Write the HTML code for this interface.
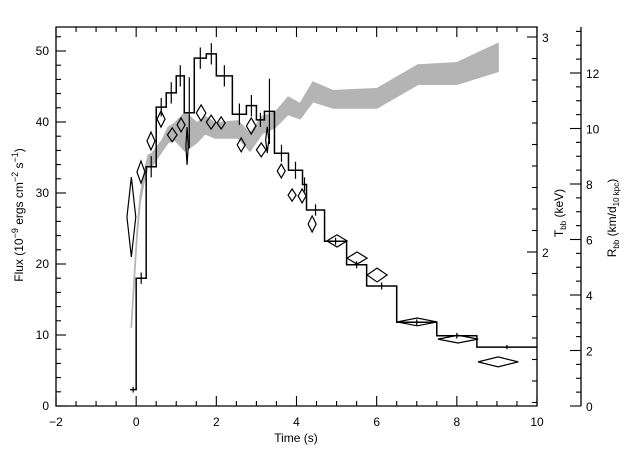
<!DOCTYPE html>
<html><head><meta charset="utf-8">
<style>
html,body{margin:0;padding:0;background:#fff;}
svg{display:block;font-family:"Liberation Sans",sans-serif;}
text{fill:#000;font-size:12px;}
</style></head>
<body>
<svg id="chart" width="640" height="457" viewBox="0 0 640 457" xmlns="http://www.w3.org/2000/svg">
<g id="band"></g>
<g id="diamonds"></g>
<g id="hist"></g>
<g id="axes"></g>
<text x="296" y="442" text-anchor="middle">Time (s)</text>
<text transform="translate(23,215) rotate(-90)" text-anchor="middle">Flux (10<tspan dy="-5" font-size="9">−9</tspan><tspan dy="5"> ergs cm</tspan><tspan dy="-5" font-size="9">−2</tspan><tspan dy="5"> s</tspan><tspan dy="-5" font-size="9">−1</tspan><tspan dy="5">)</tspan></text>
<text transform="translate(563,213) rotate(-90)" text-anchor="middle">T<tspan dy="3" font-size="8">bb</tspan><tspan dy="-3"> (keV)</tspan></text>
<text transform="translate(616,218) rotate(-90)" text-anchor="middle">R<tspan dy="3" font-size="8">bb</tspan><tspan dy="-3"> (km/d</tspan><tspan dy="3" font-size="8">10 kpc</tspan><tspan dy="-3">)</tspan></text>
</svg>
<script>
// Flux histogram data
const binEdges = [-0.15,0,0.25,0.5,0.75,1.0,1.2,1.45,1.75,2.0,2.4,2.75,3.0,3.2,3.45,3.8,4.15,4.25,4.7,5.25,5.75,6.5,7.5,8.5,10];
const fluxValues = [2.3,18,33.7,42.1,44.1,46.5,41.3,49.0,49.6,46.5,41.1,42.3,40.3,41.5,35.6,33.2,31.2,27.6,23.2,19.9,16.9,11.8,9.9,8.3];
const fluxErrors = [0.4,0.8,1.5,1.3,1.5,1.5,5,1.5,1.5,1.5,1.5,1.5,1.0,4.6,1.2,1.2,1.0,0.8,0.5,0.5,0.5,0.4,0.4,0.3];
// Temperature band (keV)
const bandTimes = [-0.12,-0.05,0.02,0.1,0.2,0.3,0.4,0.65,0.8,0.97,1.22,1.52,1.72,1.97,2.54,2.84,3.14,3.47,3.79,4.09,4.41,4.91,6.01,7.03,8.0,9.03];
const bandHigh = [1.66,1.88,2.09,2.26,2.37,2.45,2.46,2.52,2.58,2.60,2.65,2.60,2.63,2.60,2.61,2.55,2.63,2.65,2.72,2.69,2.79,2.75,2.76,2.87,2.88,2.97];
const bandLow = [1.65,1.86,2.07,2.23,2.33,2.40,2.40,2.47,2.51,2.52,2.47,2.51,2.55,2.53,2.53,2.47,2.55,2.58,2.64,2.62,2.70,2.67,2.67,2.78,2.78,2.84];
// Radius diamonds (km / d10kpc)
const radTimes = [-0.12,0.12,0.37,0.62,0.90,1.12,1.27,1.62,1.87,2.12,2.62,2.87,3.12,3.27,3.62,3.89,4.14,4.39,5.01,5.51,6.01,7.01,8.03,9.03];
const radValues = [6.81,8.43,9.55,10.34,9.77,10.13,9.37,10.56,10.23,10.2,9.41,10.09,9.23,9.59,8.47,7.6,7.57,6.56,5.95,5.33,4.72,3.03,2.41,1.59];
const radTimeErr = [0.11,0.1,0.1,0.1,0.12,0.1,0.03,0.12,0.12,0.1,0.1,0.12,0.12,0.04,0.1,0.1,0.1,0.1,0.25,0.25,0.25,0.5,0.5,0.5];
const radErr = [1.44,0.4,0.32,0.29,0.25,0.25,0.68,0.29,0.25,0.22,0.25,0.29,0.25,0.47,0.25,0.22,0.25,0.29,0.22,0.22,0.25,0.14,0.14,0.18];
// Tick labels
const xTickLabels = ["−2","0","2","4","6","8","10"];
const fluxTickLabels = ["0","10","20","30","40","50"];
const tbbTickLabels = ["2","3"];
const rbbTickLabels = ["0","2","4","6","8","10","12"];

const NS="http://www.w3.org/2000/svg";
const L=56,R=537,T=27,B=406;
const xS=t=>L+(t+2)*(R-L)/12;
const yF=f=>B-f*7.1;
const yT=k=>252-(k-2)*215;
const yR=r=>B-r*27.75;
function mk(tag,attrs,parent){const e=document.createElementNS(NS,tag);for(const k in attrs)e.setAttribute(k,attrs[k]);parent.appendChild(e);return e;}

// band
const gb=document.getElementById('band');
let pts=[];
bandTimes.forEach((t,i)=>pts.push(xS(t)+','+yT(bandHigh[i])));
for(let i=bandTimes.length-1;i>=0;i--)pts.push(xS(bandTimes[i])+','+yT(bandLow[i]));
const poly=mk('polygon',{points:pts.join(' '),fill:'#b4b4b4',stroke:'#b4b4b4','stroke-width':'1.5','stroke-linejoin':'round'},gb);



// diamonds
const gd=document.getElementById('diamonds');
radTimes.forEach((t,i)=>{
  const cx=xS(t),cy=yR(radValues[i]);
  const hw=Math.max(radTimeErr[i]*(R-L)/12,1),hh=radErr[i]*27.75;
  const d=mk('polygon',{points:`${cx-hw},${cy} ${cx},${cy-hh} ${cx+hw},${cy} ${cx},${cy+hh}`,fill:'none',stroke:'#000','stroke-width':'1.2'},gd);
  
  
});

// histogram
const gh=document.getElementById('hist');
let dpath='M'+xS(binEdges[0])+','+yF(fluxValues[0]);
fluxValues.forEach((f,i)=>{
  dpath+=' L'+xS(binEdges[i+1])+','+yF(f);
  if(i+1<fluxValues.length)dpath+=' L'+xS(binEdges[i+1])+','+yF(fluxValues[i+1]);
});
const hp=mk('path',{d:dpath,fill:'none',stroke:'#000','stroke-width':'1.5'},gh);


fluxValues.forEach((f,i)=>{
  const cx=xS((binEdges[i]+binEdges[i+1])/2);
  const e=mk('line',{x1:cx,x2:cx,y1:yF(f+fluxErrors[i]),y2:yF(f-fluxErrors[i]),stroke:'#000','stroke-width':'1.2'},gh);
  
  
});

// axes
const ga=document.getElementById('axes');
const frame=mk('path',{d:`M${L},${T} L${R},${T} L${R},${B} L${L},${B} Z`,fill:'none',stroke:'#000','stroke-width':'1.3'},ga);


for(let v=-2;v<=10.001;v+=0.5){
  const x=xS(v),maj=Math.abs(v%2)<1e-6,len=maj?10:5;
  mk('line',{x1:x,x2:x,y1:B,y2:B-len,stroke:'#000','stroke-width':'1.1'},ga);
  mk('line',{x1:x,x2:x,y1:T,y2:T+len,stroke:'#000','stroke-width':'1.1'},ga);
}
xTickLabels.forEach((s,i)=>{
  const t=mk('text',{x:xS(-2+2*i),y:426,'text-anchor':'middle'},ga);t.textContent=s;
  
  
});
for(let v=0;v<=52;v+=2){
  const y=yF(v),maj=v%10===0,len=maj?10:5;
  mk('line',{x1:L,x2:L+len,y1:y,y2:y,stroke:'#000','stroke-width':'1.1'},ga);
}
fluxTickLabels.forEach((s,i)=>{
  const t=mk('text',{x:49,y:yF(i*10)+4,'text-anchor':'end'},ga);t.textContent=s;
  
  
});
for(let k=13;k<=30;k++){
  const v=k/10,y=yT(v);if(y<T-1||y>B+1)continue;
  const maj=(k%10===0),len=maj?10:5;
  mk('line',{x1:R,x2:R-len,y1:y,y2:y,stroke:'#000','stroke-width':'1.1'},ga);
}
tbbTickLabels.forEach((s,i)=>{
  const t=mk('text',{x:542,y:yT(2+i)+5},ga);t.textContent=s;
  
  
});
const RA=581;
mk('line',{x1:RA,x2:RA,y1:T,y2:B,stroke:'#000','stroke-width':'1.3'},ga);
for(let v=0;v<=13.5;v+=0.5){
  const y=yR(v),maj=Math.abs(v%2)<1e-6,len=maj?11:5;
  mk('line',{x1:RA,x2:RA-len,y1:y,y2:y,stroke:'#000','stroke-width':'1.1'},ga);
}
rbbTickLabels.forEach((s,i)=>{
  const t=mk('text',{x:586,y:yR(2*i)+5},ga);t.textContent=s;
  
  
});
</script>
</body></html>
